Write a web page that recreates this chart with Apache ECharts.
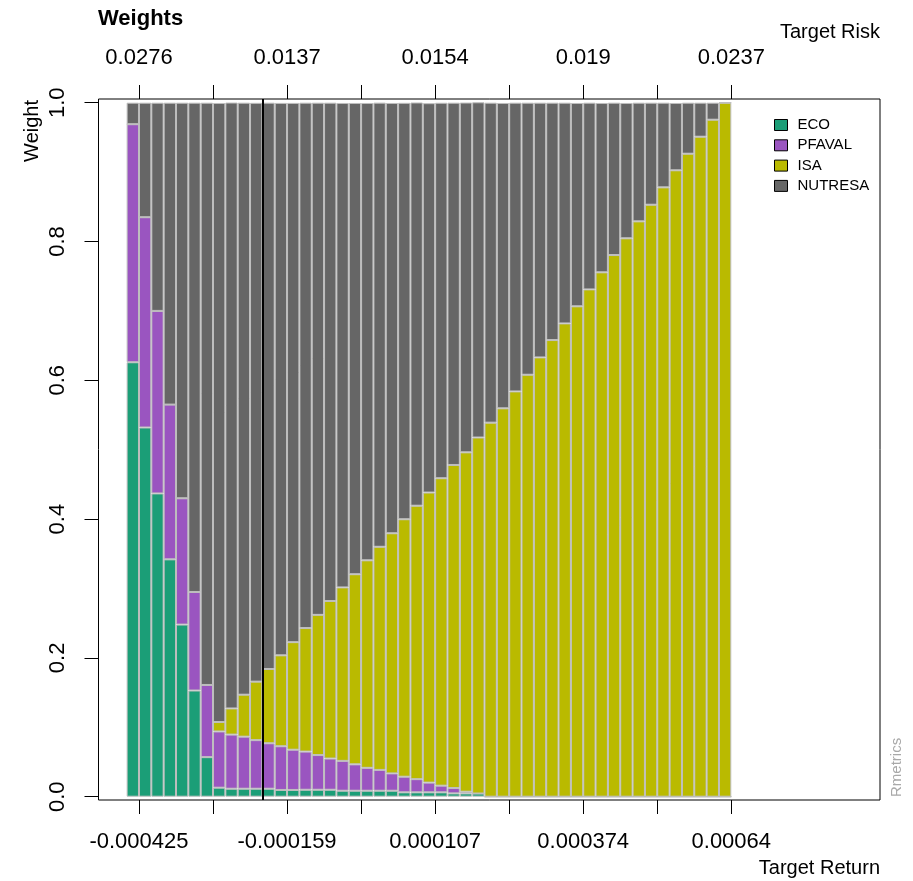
<!DOCTYPE html>
<html>
<head>
<meta charset="utf-8">
<script src="https://cdn.jsdelivr.net/npm/echarts@6/dist/echarts.min.js"></script>
<style>
html,body{margin:0;padding:0;background:#fff;}
#chart{width:913px;height:881px;}
</style>
</head>
<body>
<div id="chart"></div>
<script>
// ---- data (portfolio index 1..49 along the efficient frontier) ----
const assets = ['ECO', 'PFAVAL', 'ISA', 'NUTRESA'];
const portfolios = Array.from({ length: 49 }, (_, i) => String(i + 1));
const eco = [0.626,0.532,0.437,0.342,0.248,0.153,0.057,0.013,0.0115,0.0115,
  0.0115,0.0115,0.0097,0.0097,0.010,0.010,0.010,0.0086,0.0086,0.0086,
  0.0086,0.0086,0.0063,0.0063,0.0063,0.0063,0.0048,0.0048,0.0046,0,
  0,0,0,0,0,0,0,0,0,0,
  0,0,0,0,0,0,0,0,0];
const pfaval = [0.343,0.303,0.263,0.223,0.182,0.142,0.104,0.081,0.078,0.075,
  0.070,0.0655,0.063,0.058,0.055,0.050,0.045,0.043,0.038,0.033,
  0.030,0.025,0.0225,0.019,0.014,0.0096,0.0077,0.0024,0,0,
  0,0,0,0,0,0,0,0,0,0,
  0,0,0,0,0,0,0,0,0];
const isa = [0,0,0,0,0,0,0,0.0136,0.0377,0.0605,
  0.0843,0.107,0.131,0.155,0.178,0.202,0.227,0.250,0.274,0.299,
  0.3215,0.346,0.371,0.394,0.418,0.443,0.4655,0.489,0.513,0.539,
  0.5596,0.584,0.608,0.633,0.658,0.682,0.7066,0.731,0.7556,0.7805,
  0.8046,0.829,0.853,0.878,0.9026,0.9265,0.951,0.9755,1.0];
const nutresa = [0.031,0.165,0.300,0.435,0.570,0.705,0.839,0.892,0.873,0.853,
  0.834,0.816,0.796,0.777,0.757,0.738,0.718,0.698,0.679,0.659,
  0.640,0.620,0.600,0.581,0.561,0.541,0.522,0.504,0.483,0.461,
  0.440,0.416,0.392,0.367,0.342,0.318,0.293,0.269,0.244,0.2195,
  0.195,0.171,0.147,0.122,0.097,0.0735,0.049,0.0245,0];
const tickIndex = [1,7,13,19,25,31,37,43,49];
const labelIndex = [1,13,25,37,49];
const targetReturnLabels = ['-0.000425','-0.000159','0.000107','0.000374','0.00064'];
const targetRiskLabels = ['0.0276','0.0137','0.0154','0.019','0.0237'];
const minRiskIndex = 11;

// ---- layout / styling ----
const colors = ['#1B9E77', '#9A55C0', '#BABA00', '#666666'];
const FONT = "'Liberation Sans', Arial, sans-serif";
const W = 913, H = 881;
const FRAME_L = 98.5, FRAME_R = 880, FRAME_T = 99, FRAME_B = 800;
const XMIN = -2.28, XMAX = 61.05;           // frame extent in bar units
const pxPerUnit = (FRAME_R - FRAME_L) / (XMAX - XMIN);
const barsLeft = FRAME_L + (0 - XMIN) * pxPerUnit;
const barsRight = FRAME_L + (portfolios.length - XMIN) * pxPerUnit;

const seriesValues = [eco, pfaval, isa, nutresa];
const barSeries = assets.map((name, k) => ({
  name: name,
  type: 'bar',
  stack: 'w',
  xAxisIndex: 2,
  yAxisIndex: 1,
  barWidth: '100%',
  barCategoryGap: 0,
  barGap: 0,
  itemStyle: { color: colors[k], borderColor: '#BEBEBE', borderWidth: 1 },
  emphasis: { disabled: true },
  data: seriesValues[k]
}));

const chart = echarts.init(document.getElementById('chart'), null, { renderer: 'canvas' });
chart.setOption({
  animation: false,
  backgroundColor: '#fff',
  color: colors,
  textStyle: { fontFamily: FONT },
  grid: [
    { left: FRAME_L, right: W - FRAME_R, top: FRAME_T, bottom: H - FRAME_B, show: true, borderColor: '#000', borderWidth: 1, backgroundColor: 'transparent' },
    { left: barsLeft, right: W - barsRight, top: 102.7, bottom: H - 796.7 },
    { left: FRAME_L, right: W - FRAME_R, top: 102.7, bottom: H - 796.7 }
  ],
  xAxis: [
    { gridIndex: 0, type: 'value', position: 'bottom', min: XMIN, max: XMAX,
      axisLine: { show: false, onZero: false }, splitLine: { show: false },
      axisTick: { show: true, inside: false, length: 14, customValues: tickIndex, lineStyle: { color: '#000' } },
      axisLabel: { show: true, customValues: labelIndex, margin: 31, fontSize: 22, color: '#000', fontFamily: FONT,
        formatter: v => targetReturnLabels[labelIndex.indexOf(Math.round(v))] || '' } },
    { gridIndex: 0, type: 'value', position: 'top', min: XMIN, max: XMAX,
      axisLine: { show: false, onZero: false }, splitLine: { show: false },
      axisTick: { show: true, inside: false, length: 14, customValues: tickIndex, lineStyle: { color: '#000' } },
      axisLabel: { show: true, customValues: labelIndex, margin: 30, fontSize: 22, color: '#000', fontFamily: FONT,
        formatter: v => targetRiskLabels[labelIndex.indexOf(Math.round(v))] || '' } },
    { gridIndex: 1, type: 'category', data: portfolios, show: false, boundaryGap: true,
      axisLine: { onZero: false } },
    { gridIndex: 2, type: 'value', min: 0, max: 1, show: false }
  ],
  yAxis: [
    { gridIndex: 0, type: 'value', min: 0, max: 1, show: false },
    { gridIndex: 1, type: 'value', min: 0, max: 1, show: false },
    { gridIndex: 2, type: 'value', min: 0, max: 1, interval: 0.2, position: 'left',
      axisLine: { show: false, onZero: false }, splitLine: { show: false },
      axisTick: { show: true, inside: false, length: 14, lineStyle: { color: '#000' } },
      axisLabel: { rotate: 90, margin: 30, fontSize: 22, color: '#000', fontFamily: FONT,
        formatter: v => v.toFixed(1) } }
  ],
  legend: {
    data: assets,
    orient: 'vertical',
    left: 769, top: 112,
    icon: 'rect',
    itemWidth: 13, itemHeight: 11, itemGap: 4.3,
    itemStyle: { borderColor: '#000', borderWidth: 1 },
    textStyle: { fontSize: 15, color: '#000', fontFamily: FONT, lineHeight: 16, padding: [0, 0, 0, 5] },
    selectedMode: false
  },
  series: barSeries.concat([{
    type: 'line',
    xAxisIndex: 0, yAxisIndex: 0,
    data: [],
    z: 10,
    markLine: {
      silent: true, symbol: 'none', animation: false,
      label: { show: false },
      lineStyle: { color: '#000', width: 2, type: 'solid' },
      data: [{ xAxis: minRiskIndex }]
    }
  }]),
  graphic: [
    { type: 'text', left: 98, top: 8, style: { text: 'Weights', font: "bold 22px " + FONT, fill: '#000' } },
    { type: 'text', x: 880, y: 32, style: { text: 'Target Risk', font: "20px " + FONT, fill: '#000', align: 'right', verticalAlign: 'middle' } },
    { type: 'text', x: 880, y: 868, style: { text: 'Target Return', font: "20px " + FONT, fill: '#000', align: 'right', verticalAlign: 'middle' } },
    { type: 'text', x: 32, y: 100, rotation: Math.PI / 2, style: { text: 'Weight', font: "20px " + FONT, fill: '#000', align: 'right', verticalAlign: 'middle' } },
    { type: 'text', x: 897, y: 797, rotation: Math.PI / 2, style: { text: 'Rmetrics', font: "15px " + FONT, fill: '#A9A9A9', align: 'left', verticalAlign: 'middle' } }
  ]
});
</script>
</body>
</html>
